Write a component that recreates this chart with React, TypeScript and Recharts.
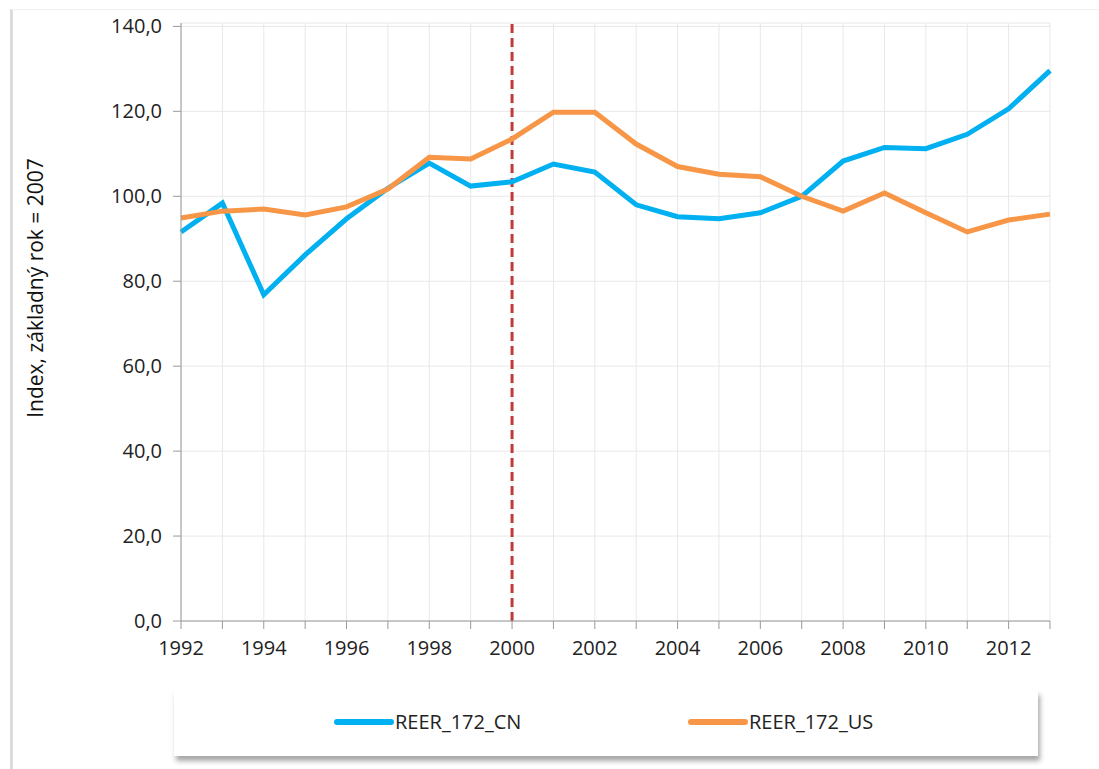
import React from "react";
import {
  CartesianGrid,
  Legend,
  Line,
  LineChart,
  ReferenceLine,
  XAxis,
  YAxis,
} from "recharts";

const years = [
  1992, 1993, 1994, 1995, 1996, 1997, 1998, 1999, 2000, 2001, 2002, 2003,
  2004, 2005, 2006, 2007, 2008, 2009, 2010, 2011, 2012, 2013,
];

const reerCN = [
  91.6, 98.4, 76.8, 86.2, 94.7, 101.9, 107.8, 102.4, 103.4, 107.6, 105.7,
  98.0, 95.2, 94.7, 96.1, 100.0, 108.3, 111.5, 111.2, 114.6, 120.6, 129.6,
];

const reerUS = [
  94.9, 96.5, 97.0, 95.6, 97.5, 101.7, 109.2, 108.8, 113.5, 119.8, 119.8,
  112.3, 107.0, 105.2, 104.6, 100.0, 96.5, 100.8, 96.1, 91.6, 94.4, 95.8,
];

const yTicks = [0, 20, 40, 60, 80, 100, 120, 140];
const markerYear = 2000;

const seriesNames = { cn: "REER_172_CN", us: "REER_172_US" };
const colors = { cn: "#00b0f0", us: "#f79646" };

const data = years.map((year, i) => ({
  year,
  cn: reerCN[i],
  us: reerUS[i],
}));

const font = "'Open Sans', sans-serif";

const fmtValue = (v: number) => v.toFixed(1).replace(".", ",");

const LegendBox = () => (
  <div
    style={{
      width: "100%",
      height: "100%",
      background: "#fff",
      boxShadow: "2px 5px 5px rgba(0,0,0,0.35)",
      position: "relative",
      fontFamily: font,
      fontSize: 20,
      color: "#222",
    }}
  >
    {(["cn", "us"] as const).map((key, i) => (
      <div
        key={key}
        style={{
          position: "absolute",
          left: i === 0 ? 160 : 514,
          top: 18,
          display: "flex",
          alignItems: "center",
        }}
      >
        <span
          style={{
            display: "inline-block",
            width: 60,
            height: 6,
            borderRadius: 3,
            background: colors[key],
          }}
        />
        <span style={{ marginLeft: 1 }}>{seriesNames[key]}</span>
      </div>
    ))}
  </div>
);

const YLabel = () => {
  const cx = 35;
  const cy = 288;
  return (
    <text
      x={cx}
      y={cy}
      transform={`rotate(-90, ${cx}, ${cy})`}
      textAnchor="middle"
      dominantBaseline="central"
      fontFamily={font}
      fontSize={21}
      fill="#111"
    >
      Index, základný rok = 2007
    </text>
  );
};

export default function App() {
  return (
    <div
      style={{
        position: "absolute",
        left: 0,
        top: 0,
        width: 1099,
        height: 769,
        background: "#fff",
      }}
    >
      <div
        style={{
          position: "absolute",
          left: 10,
          top: 9,
          width: 1089,
          height: 760,
          borderLeft: "3px solid #dcdcdc",
          borderTop: "1px solid #f2f2f2",
        }}
      />
      <LineChart
        width={1099}
        height={769}
        data={data}
        margin={{ top: 23, right: 49, left: 101, bottom: 108 }}
        style={{ position: "absolute", left: 0, top: 0 }}
      >
        <CartesianGrid stroke="#e8e8e8" strokeWidth={1} />
        <XAxis
          dataKey="year"
          type="number"
          domain={[1992, 2013]}
          ticks={years}
          interval={0}
          tickFormatter={(v: number) => (v % 2 === 0 ? String(v) : "")}
          stroke="#9a9a9a"
          tickSize={8}
          tickMargin={12}
          height={40}
          tick={{ fill: "#222", fontFamily: font, fontSize: 20 }}
        />
        <YAxis
          domain={[0, 140]}
          ticks={yTicks}
          interval={0}
          tickFormatter={fmtValue}
          stroke="#9a9a9a"
          tickSize={8}
          tickMargin={11}
          width={80}
          tick={{ fill: "#222", fontFamily: font, fontSize: 20 }}
          label={<YLabel />}
        />
        <ReferenceLine
          x={markerYear}
          stroke="#c0393b"
          strokeWidth={3}
          strokeDasharray="9 5"
          segment={[
            { x: markerYear, y: 140.8 },
            { x: markerYear, y: 0 },
          ]}
          ifOverflow="extendDomain"
        />
        <Line
          dataKey="cn"
          name={seriesNames.cn}
          stroke={colors.cn}
          strokeWidth={5}
          dot={false}
          isAnimationActive={false}
        />
        <Line
          dataKey="us"
          name={seriesNames.us}
          stroke={colors.us}
          strokeWidth={5}
          dot={false}
          isAnimationActive={false}
        />
        <Legend
          layout="horizontal"
          verticalAlign="middle"
          align="center"
          content={<LegendBox />}
          wrapperStyle={{
            left: 174,
            top: 690,
            bottom: "auto",
            width: 864,
            height: 66,
          }}
        />
      </LineChart>
    </div>
  );
}
